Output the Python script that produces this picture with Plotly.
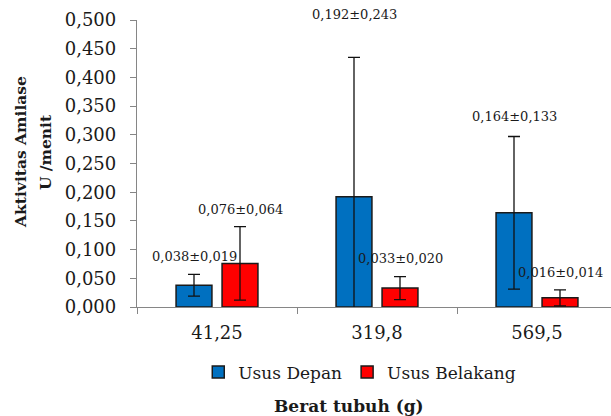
import plotly.graph_objects as go

# Body weight groups (g) and amylase activity (U/menit), mean ± SD
berat = ["41,25", "319,8", "569,5"]
depan_mean = [0.038, 0.192, 0.164]
depan_sd = [0.019, 0.243, 0.133]
belakang_mean = [0.076, 0.033, 0.016]
belakang_sd = [0.064, 0.020, 0.014]

y_ticks = [0.0, 0.05, 0.10, 0.15, 0.20, 0.25, 0.30, 0.35, 0.40, 0.45, 0.50]

FONT = "DejaVu Serif"

fig = go.Figure()

fig.add_trace(go.Bar(
    name="Usus Depan", x=berat, y=depan_mean,
    marker=dict(color="#0070C0", line=dict(color="#1a1a1a", width=1.5)),
    error_y=dict(type="data", array=depan_sd, color="#111111", thickness=1.3, width=6),
))
fig.add_trace(go.Bar(
    name="Usus Belakang", x=berat, y=belakang_mean,
    marker=dict(color="#FF0000", line=dict(color="#1a1a1a", width=1.5)),
    error_y=dict(type="data", array=belakang_sd, color="#111111", thickness=1.3, width=6),
))

# Value labels "mean±sd" above each error bar
def fmt(v):
    return f"{v:.3f}".replace(".", ",")

series = [(depan_mean, depan_sd, -0.5), (belakang_mean, belakang_sd, 0.5)]
label_lift = [[18, 43, 20], [17, 18, 17]]
for s, (means, sds, side) in enumerate(series):
    for i, (m, sd) in enumerate(zip(means, sds)):
        fig.add_annotation(
            x=i, y=m + sd, xref="x", yref="y",
            xshift=side * 46, yshift=label_lift[s][i],
            text=f"{fmt(m)}±{fmt(sd)}", showarrow=False,
            font=dict(family=FONT, size=13, color="#1a1a1a"),
            yanchor="middle",
        )

# Two-line y axis title, one annotation per line
for line, xpos in [("Aktivitas Amilase", -0.247), ("U /menit", -0.194)]:
    fig.add_annotation(
        x=xpos, y=0.54, xref="paper", yref="paper",
        text=f"<b>{line}</b>", textangle=-90,
        showarrow=False, font=dict(family=FONT, size=15.5, color="#1a1a1a"),
        xanchor="center", yanchor="middle",
    )

# x axis title
fig.add_annotation(
    x=0.447, y=-0.345, xref="paper", yref="paper",
    text="<b>Berat tubuh (g)</b>", showarrow=False,
    font=dict(family=FONT, size=17, color="#1a1a1a"),
    xanchor="center", yanchor="middle",
)

fig.update_layout(
    width=611, height=416,
    margin=dict(l=137, r=0, t=20, b=109),
    paper_bgcolor="white", plot_bgcolor="white",
    separators=",.",
    barmode="group", bargap=0.425, bargroupgap=0.22,
    font=dict(family=FONT, color="#1a1a1a"),
    showlegend=True,
    legend=dict(
        orientation="h", x=0.47, xanchor="center", y=-0.228, yanchor="middle",
        font=dict(family=FONT, size=17, color="#1a1a1a"),
        itemwidth=30, traceorder="normal",
    ),
    xaxis=dict(
        type="category", range=[-0.5, 2.4625],
        showline=True, linecolor="#868686", linewidth=1.3,
        ticks="outside", tickson="boundaries", ticklen=6, tickcolor="#868686",
        ticklabelstandoff=9,
        tickfont=dict(family=FONT, size=18, color="#1a1a1a"),
        showgrid=False,
    ),
    yaxis=dict(
        range=[0, 0.5], tickvals=y_ticks, tickformat=".3f",
        showline=True, linecolor="#868686", linewidth=1.3,
        ticks="outside", ticklen=6, tickcolor="#868686",
        ticklabelstandoff=10,
        tickfont=dict(family=FONT, size=18, color="#1a1a1a"),
        showgrid=False, zeroline=False,
    ),
)

fig.write_html("out.html")
